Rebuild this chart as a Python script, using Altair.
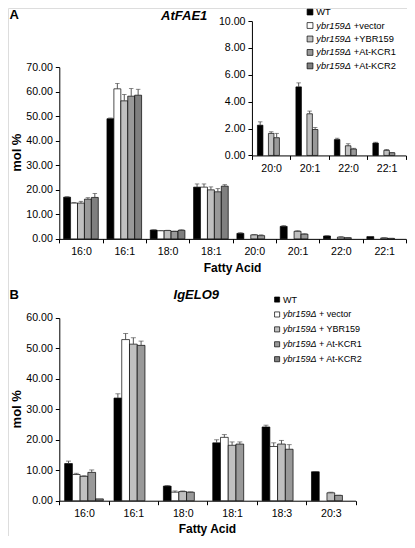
import altair as alt
import pandas as pd

# ---------------- data ----------------
SERIES = ["WT", "vector", "YBR159", "At-KCR1", "At-KCR2"]
COLORS = ["#000000", "#ffffff", "#c0c0c0", "#999999", "#7f7f7f"]

A_ACIDS = ["16:0", "16:1", "18:0", "18:1", "20:0", "20:1", "22:0", "22:1"]
A_WT = [17.0, 49.0, 3.6, 21.1, 2.25, 5.10, 1.18, 0.92]
A_VECTOR = [14.6, 61.2, 3.3, 21.1, None, None, None, None]
A_YBR159 = [14.6, 56.3, 3.4, 20.0, 1.64, 3.10, 0.72, 0.38]
A_KCR1 = [16.2, 58.2, 3.0, 19.2, 1.32, 1.93, 0.48, 0.20]
A_KCR2 = [16.9, 58.6, 3.5, 21.5, None, None, None, None]
A_WT_ERR = [0.2, 0.3, 0.1, 1.3, 0.25, 0.30, 0.10, 0.06]
A_VECTOR_ERR = [0.2, 2.2, 0.1, 1.3, None, None, None, None]
A_YBR159_ERR = [0.7, 2.6, 0.1, 1.2, 0.12, 0.20, 0.15, 0.06]
A_KCR1_ERR = [0.6, 3.1, 0.2, 1.3, 0.32, 0.15, 0.05, 0.02]
A_KCR2_ERR = [1.6, 2.4, 0.2, 0.6, None, None, None, None]
INSET_ACIDS = ["20:0", "20:1", "22:0", "22:1"]

B_ACIDS = ["16:0", "16:1", "18:0", "18:1", "18:3", "20:3"]
B_WT = [12.2, 33.7, 4.8, 19.0, 24.2, 9.5]
B_VECTOR = [8.6, 52.9, 2.8, 20.8, 17.8, None]
B_YBR159 = [8.0, 51.4, 3.0, 18.2, 18.6, 2.6]
B_KCR1 = [9.3, 51.0, 2.8, 18.6, 16.9, 1.75]
B_KCR2 = [0.6, None, None, None, None, None]
B_WT_ERR = [0.8, 1.4, 0.2, 1.0, 0.6, 0.1]
B_VECTOR_ERR = [0.4, 2.0, 0.4, 0.9, 1.2, None]
B_YBR159_ERR = [0.2, 2.1, 0.2, 1.1, 1.2, 0.2]
B_KCR1_ERR = [0.8, 1.4, 0.1, 0.7, 1.5, 0.05]
B_KCR2_ERR = [0.0, None, None, None, None, None]

A_TICKS = [0, 10, 20, 30, 40, 50, 60, 70]
INSET_TICKS = [0, 2, 4, 6, 8, 10]
B_TICKS = [0, 10, 20, 30, 40, 50, 60]

LEGEND_ITALIC = ["", "ybr159\u0394", "ybr159\u0394", "ybr159\u0394", "ybr159\u0394"]
LEGEND_A_REST = ["WT", "+vector", "+YBR159", "+At-KCR1", "+At-KCR2"]
LEGEND_B_REST = ["WT", "+ vector", "+ YBR159", "+ At-KCR1", "+ At-KCR2"]

# ---------------- layout ----------------
W, H = 399, 528
K = 0.968
FONT = "Liberation Sans"


def sx(x):
    return (x - 2) * K


def sy(y):
    return (y - 1.5) * K


def long_df(acids, vals, errs):
    rows = []
    for s, vv, ee in zip(SERIES, vals, errs):
        for a, v, e in zip(acids, vv, ee):
            if v is None:
                continue
            rows.append(dict(acid=a, series=s, value=v, top=v + (e or 0)))
    return pd.DataFrame(rows)


dfA = long_df(A_ACIDS, [A_WT, A_VECTOR, A_YBR159, A_KCR1, A_KCR2],
              [A_WT_ERR, A_VECTOR_ERR, A_YBR159_ERR, A_KCR1_ERR, A_KCR2_ERR])
dfI = dfA[dfA.acid.isin(INSET_ACIDS)].reset_index(drop=True)
dfB = long_df(B_ACIDS, [B_WT, B_VECTOR, B_YBR159, B_KCR1, B_KCR2],
              [B_WT_ERR, B_VECTOR_ERR, B_YBR159_ERR, B_KCR1_ERR, B_KCR2_ERR])

COLOR = alt.Color("series:N", scale=alt.Scale(domain=SERIES, range=COLORS), legend=None)

axis_common = dict(
    title=None, grid=False, domainColor="#000000", tickColor="#000000",
    domainWidth=1, tickWidth=1, labelColor="#000000", labelFont=FONT,
    labelFontSize=10.6,
)


def bar_panel(df, acids, xr, yr, ydom, yticks, group_po, cap_len):
    x = alt.X("acid:N", sort=acids,
              scale=alt.Scale(domain=acids, range=xr, paddingInner=0, paddingOuter=0),
              axis=alt.Axis(orient="bottom", offset=yr[0] - H, tickBand="extent",
                            labelAngle=0, tickSize=4, labelPadding=4, **axis_common))
    xo = alt.XOffset("series:N", sort=SERIES,
                     scale=alt.Scale(domain=SERIES, paddingInner=0, paddingOuter=group_po))
    yaxis = alt.Axis(orient="left", offset=-xr[0], values=yticks, format=".2f",
                     tickSize=4, labelPadding=3, **axis_common)
    yscale = alt.Scale(domain=ydom, range=yr, nice=False, zero=True)
    y = alt.Y("value:Q", scale=yscale, axis=yaxis)
    bars = alt.Chart(df).mark_bar(stroke="#000000", strokeWidth=0.7).encode(
        x=x, xOffset=xo, y=y, color=COLOR)
    edf = df[df.top > df.value]
    err = alt.Chart(edf).mark_rule(color="#444444", strokeWidth=0.9).encode(
        x=x, xOffset=xo, y=y, y2="top:Q")
    cap = alt.Chart(edf).mark_tick(orient="horizontal", color="#444444",
                                   size=cap_len, thickness=0.9).encode(
        x=x, xOffset=xo, y=alt.Y("top:Q", scale=yscale, axis=yaxis))
    return alt.layer(bars, err, cap)


panelA = bar_panel(dfA, A_ACIDS, [sx(55), sx(413)], [sy(240), sy(62.7)], [0, 70],
                   A_TICKS, 0.625, 4.5)
inset = bar_panel(dfI, INSET_ACIDS, [sx(254), sx(413)], [sy(153.8), sy(15)], [0, 10],
                  INSET_TICKS, 1.0, 4.5)
panelB = bar_panel(dfB, B_ACIDS, [sx(55), sx(361)], [sy(510.5), sy(321.7)], [0, 60],
                   B_TICKS, 0.69, 5)


def legend(rest, ytop, ybot, xsym, xtext, xrest, sym_size, fsize):
    ldf = pd.DataFrame({"series": SERIES, "ital": LEGEND_ITALIC, "rest": rest})
    y = alt.Y("series:N", sort=SERIES,
              scale=alt.Scale(type="point", domain=SERIES, range=[ytop, ybot], padding=0),
              axis=None)
    sym = alt.Chart(ldf).mark_square(size=sym_size, stroke="#000000", strokeWidth=0.7,
                                     opacity=1).encode(
        x=alt.value(xsym), y=y, color=COLOR)
    first = alt.Chart(ldf[ldf.series == "WT"]).mark_text(
        align="left", baseline="middle", font=FONT, fontSize=fsize, color="#000000").encode(
        x=alt.value(xtext), y=y, text="rest:N")
    ital = alt.Chart(ldf[ldf.series != "WT"]).mark_text(
        align="left", baseline="middle", font=FONT, fontSize=fsize, fontStyle="italic",
        color="#000000").encode(x=alt.value(xtext), y=y, text="ital:N")
    rst = alt.Chart(ldf[ldf.series != "WT"]).mark_text(
        align="left", baseline="middle", font=FONT, fontSize=fsize, color="#000000").encode(
        x=alt.value(xrest), y=y, text="rest:N")
    return alt.layer(sym, first, ital, rst)


legA = legend(LEGEND_A_REST, sy(5.7), sy(61.3), sx(314), sx(320.5), sx(320.5) + 37.5, 34, 9.3)
legB = legend(LEGEND_B_REST, sy(302.7), sy(364.3), sx(280), sx(286), sx(286) + 36, 26, 9.0)

one = pd.DataFrame({"t": [0]})


def label(text, x, y, size, style="normal", angle=0, align="left"):
    return alt.Chart(one).mark_text(
        text=text, align=align, baseline="middle", font=FONT, fontSize=size,
        fontWeight="bold", fontStyle=style, angle=angle, color="#000000").encode(
        x=alt.value(x), y=alt.value(y))


texts = [
    label("A", 1.5, sy(8.5), 13),
    label("AtFAE1", sx(184), sy(9.5), 13, style="italic", align="center"),
    label("mol %", 8.5, sy(151), 13, angle=270, align="center"),
    label("Fatty Acid", sx(234), sy(270), 12, align="center"),
    label("B", 1.5, sy(298), 13),
    label("IgELO9", sx(196.5), sy(298), 13, style="italic", align="center"),
    label("mol %", 8.5, sy(416), 13, angle=270, align="center"),
    label("Fatty Acid", sx(208), sy(540), 12, align="center"),
]

chart = alt.layer(panelA, inset, panelB, legA, legB, *texts).resolve_scale(
    x="independent", y="independent", xOffset="independent"
).properties(
    width=W, height=H, padding=0, autosize=alt.AutoSizeParams(type="none")
).configure_view(stroke=None).configure(background="#ffffff")

chart.save("out.html", embed_options={"renderer": "svg", "actions": False})
